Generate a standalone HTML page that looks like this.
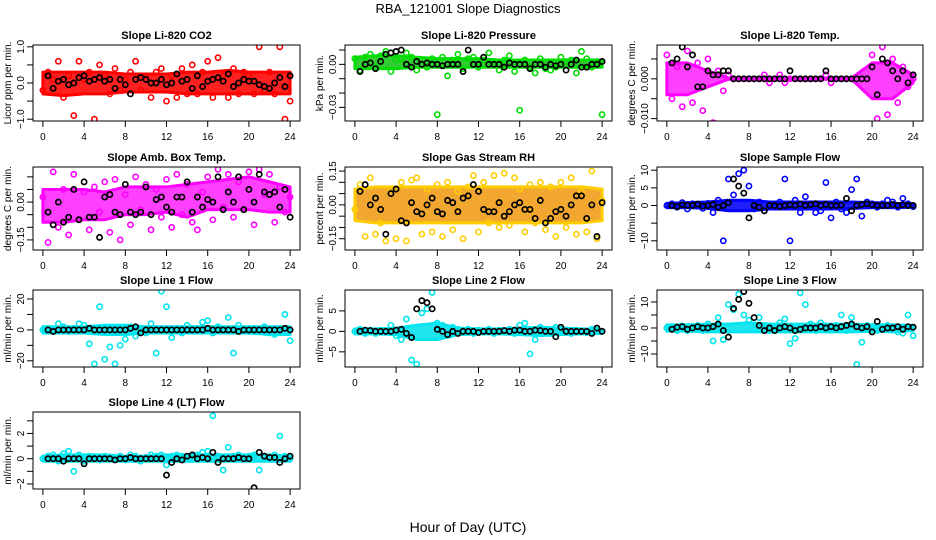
<!DOCTYPE html>
<html><head><meta charset="utf-8">
<style>
body{margin:0;background:#fff;}
svg{display:block;font-family:"Liberation Sans",sans-serif;}
</style></head>
<body>
<svg id="chart" width="936" height="540" viewBox="0 0 936 540" xmlns="http://www.w3.org/2000/svg">
<rect width="936" height="540" fill="#fff"/>
<text x="468" y="13" text-anchor="middle" font-size="13">RBA_121001  Slope Diagnostics</text>
<text x="468" y="532" text-anchor="middle" font-size="14">Hour of Day (UTC)</text>
</svg>
<script>
const xTicks=[0,4,8,12,16,20,24];
const bandHours=[0,2,4,6,8,10,12,14,16,18,20,22,24];

const co2Color=[-0.2,0.3,0.1,0.6,-0.4,0.2,-0.9,0.6,0.1,0.3,-1.0,0.5,0.2,-0.3,0.4,-0.2,0.1,0.3,0.6,-0.2,0.2,-0.4,0.3,0.4,-0.5,0.2,-0.4,0.4,-0.3,0.5,-0.3,0.3,0.6,-0.4,0.7,0.2,-0.4,0.4,-0.3,0.3,0.2,-0.3,1.0,-0.2,0.3,-0.3,1.0,-1.0,-0.5];
const co2Black=[0.2,-0.15,0.05,0.1,-0.05,0.0,0.15,0.2,0.05,0.1,0.15,0.05,0.1,-0.15,0.1,-0.05,-0.3,0.1,0.15,0.1,0.0,0.0,0.1,-0.05,0.0,0.25,0.05,0.1,-0.15,0.2,-0.1,0.05,0.1,0.15,0.05,0.25,-0.1,0.0,0.1,0.05,0.05,-0.05,-0.1,-0.15,0.0,0.15,-0.1,0.2];
const co2Hi=[0.3,0.3,0.3,0.3,0.25,0.25,0.25,0.3,0.3,0.35,0.3,0.3,0.3];
const co2Lo=[-0.3,-0.35,-0.3,-0.3,-0.25,-0.25,-0.25,-0.3,-0.3,-0.3,-0.3,-0.3,-0.3];

const presColor=[0.004,-0.004,0.005,0.007,-0.002,0.006,0.009,-0.005,0.003,0.004,0.008,0.005,-0.004,0.003,-0.002,0.004,-0.035,0.005,-0.008,0.003,0.007,-0.003,0.004,0.005,-0.002,0.003,0.008,0.002,-0.004,0.003,0.006,-0.005,-0.032,0.003,-0.002,-0.006,0.004,-0.003,-0.004,-0.002,0.005,0.002,0.003,-0.006,0.009,0.004,-0.002,0.002,-0.035];
const presBlack=[-0.005,0.0,0.001,-0.003,0.002,0.007,0.008,0.009,0.01,0.0,-0.002,0.002,0.0,0.001,0.0,0.0,-0.001,0.0,0.0,0.0,-0.005,0.01,0.0,0.0,0.005,0.0,0.0,0.0,-0.002,0.001,0.0,0.0,0.0,-0.003,0.0,0.0,-0.002,0.0,-0.001,0.0,-0.004,0.0,0.003,-0.002,-0.002,0.0,0.0,0.002];
const presHi=[0.005,0.006,0.006,0.005,0.004,0.004,0.004,0.003,0.003,0.003,0.003,0.003,0.003];
const presLo=[-0.003,-0.003,-0.003,-0.002,-0.002,-0.002,-0.002,-0.002,-0.002,-0.002,-0.002,-0.002,-0.002];

const tempColor=[0.006,-0.005,0.003,-0.007,0.007,-0.006,0.004,-0.008,0.005,-0.011,0.002,-0.003,0.001,0.0,0.0,0.0,0.0,0.0,0.0,0.001,-0.001,0.0,0.001,-0.001,0.0,0.0,0.0,0.0,0.0,0.0,0.0,0.001,-0.001,0.0,0.0,0.0,0.0,0.0,0.0,0.0,0.006,-0.01,0.008,-0.009,0.005,-0.006,0.003,-0.002,0.0];
const tempBlack=[0.004,0.005,0.008,0.003,0.006,-0.002,-0.002,0.002,0.001,0.001,0.002,0.002,0,0,0,0,0,0,0,0,0,0,0,0.002,0,0,0,0,0,0,0.002,0,0,0,0,0,0,0,0,0.003,-0.004,0.005,0.004,0.002,0.0,0.002,-0.001,0.001];
const tempHi=[0.004,0.004,0.002,0.0002,0.0001,0.0001,0.0001,0.0001,0.0001,0.0002,0.004,0.004,0.001];
const tempLo=[-0.004,-0.004,-0.002,-0.0001,-0.0001,-0.0001,-0.0001,-0.0001,-0.0001,-0.0001,-0.005,-0.005,-0.001];

const ambColor=[0.02,-0.16,0.12,-0.1,0.05,-0.13,0.11,-0.07,0.04,-0.11,0.06,-0.04,0.08,-0.12,0.09,-0.15,0.03,-0.09,0.1,-0.03,0.07,-0.11,0.05,-0.06,0.09,-0.1,0.11,-0.05,0.07,-0.08,-0.11,0.04,0.1,-0.07,0.13,-0.02,0.11,-0.06,0.08,-0.03,0.12,-0.09,0.13,0.03,0.11,-0.08,0.06,-0.04,0.02];
const ambBlack=[-0.04,-0.09,0.0,-0.08,-0.06,0.05,-0.07,0.08,-0.06,-0.06,-0.14,0.02,0.03,-0.04,-0.05,0.07,-0.04,-0.05,-0.04,0.06,-0.05,0.01,0.02,-0.02,-0.04,0.02,0.02,0.08,-0.04,0.02,-0.02,0.01,0.0,0.1,-0.03,0.04,0.0,0.1,-0.03,0.05,0.0,0.11,0.04,0.03,0.04,-0.02,0.05,-0.06];
const ambHi=[0.05,0.05,0.05,0.04,0.06,0.06,0.06,0.07,0.08,0.09,0.1,0.08,0.06];
const ambLo=[-0.08,-0.08,-0.07,-0.07,-0.05,-0.05,-0.04,-0.06,-0.03,-0.03,-0.03,-0.04,-0.04];

const rhColor=[-0.02,0.09,-0.14,0.12,-0.13,-0.08,-0.16,0.07,-0.15,0.1,-0.16,0.11,0.12,-0.13,0.07,-0.12,0.09,-0.14,0.1,-0.11,0.06,-0.15,0.08,0.13,-0.12,0.1,-0.08,0.13,-0.1,0.14,-0.09,0.12,0.07,-0.12,0.09,-0.08,0.1,-0.11,0.08,-0.14,0.1,-0.1,0.12,-0.13,0.06,-0.12,0.15,-0.15,0.02];
const rhBlack=[0.06,0.09,0.0,0.03,-0.02,-0.13,0.05,0.07,-0.07,-0.08,0.01,-0.03,-0.04,0.0,0.03,-0.03,-0.04,0.02,0.01,-0.03,0.03,0.04,0.09,0.06,-0.02,-0.03,-0.03,0.01,-0.05,-0.03,0.0,0.01,-0.02,-0.02,-0.06,0.02,-0.08,-0.06,-0.03,-0.02,-0.05,0.0,0.04,0.04,-0.06,0.0,-0.14,0.01];
const rhHi=[0.07,0.08,0.08,0.08,0.08,0.08,0.08,0.08,0.08,0.08,0.08,0.08,0.07];
const rhLo=[-0.07,-0.08,-0.08,-0.08,-0.08,-0.08,-0.08,-0.08,-0.08,-0.08,-0.08,-0.08,-0.07];

const sampColor=[0,0.5,-0.5,0.8,-1,0.5,0.3,-0.8,0.6,-2,1.5,-10,7.5,3,9,10,5.5,-1,1,-1.5,0.5,-0.5,1,7.5,-10,1.5,-2,2.5,0.5,-2,-1.5,6.5,-3.5,1,-1,-2,4.5,7.5,-3,1,0.5,-0.5,0.5,1.5,1,-0.5,2,0.5,-0.3];
const sampBlack=[0,-0.3,0.2,0,0,0.4,-0.2,0,0.3,-0.5,0,0.8,7.5,5.5,3.5,-3.5,0,-0.5,-1.5,0,0,-0.3,0,0.2,0,0.4,0,0.2,0.5,0,0.3,0,0,0.1,2,-1.5,0,0.3,0.5,0.2,0,0,0,0.3,0,0.2,0,0];
const sampHi=[0.6,0.8,1.0,1.5,1.5,1.0,1.0,1.0,1.0,1.0,0.8,0.6,0.5];
const sampLo=[-0.6,-0.6,-0.8,-1.5,-1.5,-1.0,-1.0,-1.0,-1.0,-0.8,-0.6,-0.6,-0.5];

const l1Color=[0,1,-1,4,2,-1,1,4,3,-9,-22,15,-19,-11,-22,-10,-6,2,-4,1,-2,4,-15,25,15,-5,1,-2,3,0,1,5,6,-2,2,0,8,-15,3,0,-1,1,0,2,-2,-3,-1,10,-7];
const l1Black=[0,-1,0,0,0,0,0,0,1,0,0,0,0,0,0,0,1,2,-2,0,0,0,0,0,0,0,0,0,0,0,0,1,0,0,0,0,0,-1,0,0,0,0,0,0,0,0,1,0];
const l1Hi=[2,2,2,3,3,2,2,2,2,2,2,2,2];
const l1Lo=[-2,-2,-2,-3,-3,-2,-2,-2,-2,-2,-2,-3,-3];

const l2Color=[0,0.5,-0.5,0.3,-0.5,0.3,0,1.5,-1,-2,3,-7,-8,4.5,5.5,9.5,2,1.5,-0.5,1,0.5,0,0.5,-0.5,0.3,0,0.5,-0.5,0.3,0,0.5,-0.5,1.5,2,-5.5,-2,1,0.5,-0.5,1,0.5,0.3,-0.5,0.3,0,-0.3,0.5,0.3,0];
const l2Black=[0,0.3,0.2,0,0,0,0,0.3,0.5,-0.5,-1.5,5.5,7.5,7,5.5,0.5,0,-0.8,0,-0.5,0,0,0,-0.3,0,0,0,0,0.2,0,0.3,0.3,0,0,0.3,0.2,0,0,-1.3,1,0,0,0,0,0,-0.5,0.8,0];
const l2Hi=[0.6,0.6,0.8,1.5,2,0.8,0.6,0.6,0.8,1,0.8,0.6,0.5];
const l2Lo=[-0.6,-0.6,-0.8,-2,-2,-0.8,-0.6,-0.6,-0.8,-1,-0.8,-0.6,-0.5];

const l3Color=[0,0.5,-1,0.8,-1,0.5,1,-1,1.5,-5,4,-4.5,9,7,13,5,3,-0.5,4,1,-1,0.5,2,3.5,-6,-4,13.5,9,1.5,-1,2,0.5,-0.5,1,5,-1,4,-14,-5.5,1,0.5,-1,0.5,1,-0.5,-1.5,-2,5,-3];
const l3Black=[-0.5,0.3,0.5,-0.5,0,0.5,0,0,0.5,1.5,-1,-3.5,7.5,11,14,9.5,4,1,-1,0,-1,0,0.5,0,-1,-0.5,0,0,0,0.5,0,0.5,0,0.5,1,1.5,0.5,0,0.5,-1.5,2.5,-0.5,0,0,0.5,-0.5,0.5,0.3];
const l3Hi=[1.2,1.2,1.5,1.5,2,1.5,1.5,1.5,1.5,1.5,1.2,1.2,1];
const l3Lo=[-1.2,-1.2,-1.5,-1.5,-1.5,-1.5,-1.5,-1.5,-1.5,-1.5,-1.2,-1.5,-1];

const l4Color=[0,0.2,0.3,-0.2,0.4,0.6,-1,0.3,-0.2,0.2,0.1,-0.1,0.2,0.1,0,0.2,-0.1,0.3,0.2,-0.2,0.1,0.3,0.2,0.3,-0.5,0.2,0.3,0.2,0.1,0.2,0.3,0.5,0.6,3.4,0.2,-0.9,0.9,0.2,0.3,0.1,0.2,0.3,-0.9,0.2,0.1,0.3,1.8,0.2,0];
const l4Black=[0,0,0,-0.2,0,0,0,-0.4,0,0,0,0,0,-0.1,0,0,0.1,0,0,0,0,0,0,-1.3,-0.3,0,-0.1,0.2,0.3,0,0.1,0,0.5,-0.3,0,0,0,0.1,0,0,-2.3,0.5,0.2,0.1,0.1,-0.3,0,0.2];
const l4Hi=[0.2,0.3,0.3,0.3,0.2,0.2,0.3,0.3,0.3,0.3,0.3,0.3,0.2];
const l4Lo=[-0.2,-0.2,-0.2,-0.2,-0.2,-0.2,-0.2,-0.2,-0.2,-0.2,-0.2,-0.2,-0.2];

const NS='http://www.w3.org/2000/svg';
const svg=document.getElementById('chart');
function mk(tag,attrs,parent){const e=document.createElementNS(NS,tag);for(const k in attrs)e.setAttribute(k,attrs[k]);(parent||svg).appendChild(e);return e;}

const cols=[{l:33,r:300},{l:345,r:612},{l:657,r:923}];
const rows=[{t:45,b:121},{t:167,b:250},{t:290,b:367},{t:412,b:489}];
const panels=[
 {name:'co2',title:'Slope Li-820 CO2',yl:'Licor ppm per min.',c:0,r:0,ymin:-1.05,ymax:1.05,ticks:[-1,-0.5,0,0.5,1],labels:[[-1,'-1.0'],[0,'0.0'],[1,'1.0']],col:'#ff0000',fill:'#ff2020',cv:co2Color,bv:co2Black,hi:co2Hi,lo:co2Lo},
 {name:'pressure',title:'Slope Li-820 Pressure',yl:'kPa per min.',c:1,r:0,ymin:-0.0395,ymax:0.0135,ticks:[0.01,0,-0.01,-0.02,-0.03],labels:[[0,'0.00'],[-0.03,'-0.03']],col:'#00dd00',fill:'#33cc33',cv:presColor,bv:presBlack,hi:presHi,lo:presLo},
 {name:'temp',title:'Slope Li-820 Temp.',yl:'degrees C per min.',c:2,r:0,ymin:-0.0106,ymax:0.0085,ticks:[0.005,0,-0.005,-0.01],labels:[[0,'0.000'],[-0.01,'-0.010']],col:'#ff00ff',fill:'#ff40ff',cv:tempColor,bv:tempBlack,hi:tempHi,lo:tempLo},
 {name:'amb-box-temp',title:'Slope Amb. Box Temp.',yl:'degrees C per min.',c:0,r:1,ymin:-0.19,ymax:0.139,ticks:[0.1,0.05,0,-0.05,-0.1,-0.15],labels:[[0,'0.00'],[-0.15,'-0.15']],col:'#ff00ff',fill:'#ff40ff',cv:ambColor,bv:ambBlack,hi:ambHi,lo:ambLo},
 {name:'gas-stream-rh',title:'Slope Gas Stream RH',yl:'percent per min.',c:1,r:1,ymin:-0.2,ymax:0.168,ticks:[0.15,0.1,0.05,0,-0.05,-0.1,-0.15],labels:[[0.15,'0.15'],[0,'0.00'],[-0.15,'-0.15']],col:'#ffcc00',fill:'#f2a830',cv:rhColor,bv:rhBlack,hi:rhHi,lo:rhLo},
 {name:'sample-flow',title:'Slope Sample Flow',yl:'ml/min per min.',c:2,r:1,ymin:-12.6,ymax:10.9,ticks:[10,5,0,-5,-10],labels:[[10,'10'],[5,'5'],[0,'0'],[-10,'-10']],col:'#0000ff',fill:'#2020ff',cv:sampColor,bv:sampBlack,hi:sampHi,lo:sampLo},
 {name:'line1-flow',title:'Slope Line 1 Flow',yl:'ml/min per min.',c:0,r:2,ymin:-24,ymax:25.8,ticks:[20,10,0,-10,-20],labels:[[20,'20'],[0,'0'],[-20,'-20']],col:'#00e5ee',fill:'#20e5ee',cv:l1Color,bv:l1Black,hi:l1Hi,lo:l1Lo},
 {name:'line2-flow',title:'Slope Line 2 Flow',yl:'ml/min per min.',c:1,r:2,ymin:-8.7,ymax:10.1,ticks:[5,0,-5],labels:[[5,'5'],[0,'0'],[-5,'-5']],col:'#00e5ee',fill:'#20e5ee',cv:l2Color,bv:l2Black,hi:l2Hi,lo:l2Lo},
 {name:'line3-flow',title:'Slope Line 3 Flow',yl:'ml/min per min.',c:2,r:2,ymin:-15,ymax:14.6,ticks:[10,5,0,-5,-10],labels:[[10,'10'],[0,'0'],[-10,'-10']],col:'#00e5ee',fill:'#20e5ee',cv:l3Color,bv:l3Black,hi:l3Hi,lo:l3Lo},
 {name:'line4-flow',title:'Slope Line 4 (LT) Flow',yl:'ml/min per min.',c:0,r:3,ymin:-2.4,ymax:3.7,ticks:[3,2,1,0,-1,-2],labels:[[2,'2'],[0,'0'],[-2,'-2']],col:'#00e5ee',fill:'#20e5ee',cv:l4Color,bv:l4Black,hi:l4Hi,lo:l4Lo}
];

panels.forEach(p=>{
  const C=cols[p.c],R=rows[p.r];
  const w=C.r-C.l;
  const xs=h=>C.l+w*(0.04/1.08)+(h/24)*w*(1/1.08);
  const ys=v=>R.b-(v-p.ymin)/(p.ymax-p.ymin)*(R.b-R.t);
  const g=mk('g',{});
  
  
  const clip=mk('clipPath',{id:'clip-'+p.name},g);
  mk('rect',{x:C.l,y:R.t,width:w,height:R.b-R.t},clip);
  const pg=mk('g',{'clip-path':'url(#clip-'+p.name+')'},g);
  let pts=bandHours.map((h,i)=>xs(h)+','+ys(p.hi[i]));
  pts=pts.concat(bandHours.slice().reverse().map((h,i)=>xs(h)+','+ys(p.lo[bandHours.length-1-i])));
  const band=mk('polygon',{points:pts.join(' '),fill:p.fill,stroke:p.col,'stroke-width':3,'stroke-linejoin':'round'},pg);
  
  
  p.cv.forEach((v,i)=>{
    const c=mk('circle',{cx:xs(i*0.5),cy:ys(v),r:2.6,fill:'none',stroke:p.col,'stroke-width':1.6},pg);
    
    
  });
  p.bv.forEach((v,i)=>{
    const c=mk('circle',{cx:xs(0.5+i*0.5),cy:ys(v),r:2.6,fill:'none',stroke:'#000','stroke-width':1.7},pg);
    
    
  });
  const box=mk('rect',{x:C.l,y:R.t,width:w,height:R.b-R.t,fill:'none',stroke:'#000','stroke-width':1},g);
  
  
  const t=mk('text',{x:(C.l+C.r)/2,y:R.t-6,'text-anchor':'middle','font-size':11,'font-weight':'bold'},g);
  t.textContent=p.title;
  
  
  xTicks.forEach(h=>{
    mk('line',{x1:xs(h),x2:xs(h),y1:R.b,y2:R.b+6,stroke:'#000'},g);
    const tl=mk('text',{x:xs(h),y:R.b+19,'text-anchor':'middle','font-size':10},g);
    tl.textContent=h;
    
    
  });
  p.ticks.forEach(v=>{mk('line',{x1:C.l-6,x2:C.l,y1:ys(v),y2:ys(v),stroke:'#000'},g);});
  p.labels.forEach(([v,s])=>{
    const tl=mk('text',{x:0,y:0,'text-anchor':'middle','font-size':10,transform:`translate(${C.l-9},${ys(v)}) rotate(-90)`},g);
    tl.textContent=s.replace('-','\u2212');
    
    
  });
  const yl=mk('text',{x:0,y:0,'text-anchor':'middle','font-size':10,transform:`translate(${C.l-22},${(R.t+R.b)/2}) rotate(-90)`},g);
  yl.textContent=p.yl;
  
  
});
</script>
</body></html>
